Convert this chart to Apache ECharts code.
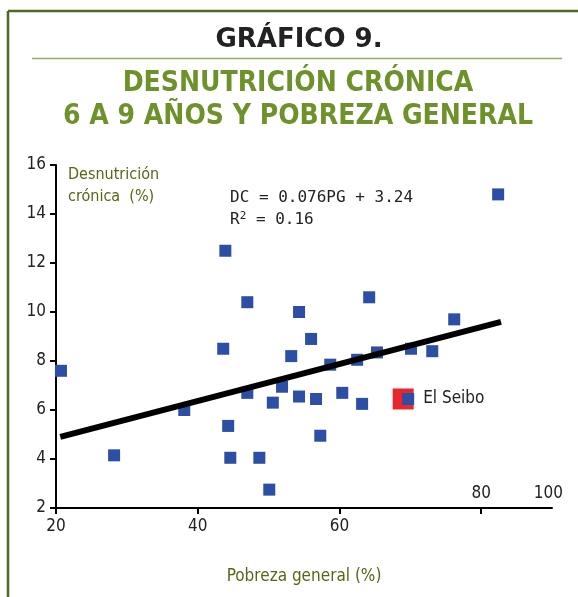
<!DOCTYPE html>
<html>
<head>
<meta charset="utf-8">
<script src="https://cdn.jsdelivr.net/npm/echarts@6/dist/echarts.min.js"></script>
<style>
  html, body { margin: 0; padding: 0; background: #fff; }
  #main { width: 578px; height: 597px; }
</style>
</head>
<body>
<div id="main"></div>
<script>
// Pobreza general (%) vs desnutrición crónica (%) por provincia
var pobreza = [20.7, 28.2, 38.1, 43.9, 47.0, 43.6, 44.3, 44.6, 47.0, 48.7,
               50.1, 50.6, 51.9, 53.2, 54.3, 54.3, 56.0, 56.7, 57.3, 58.7,
               60.4, 62.5, 63.2, 64.2, 65.3, 70.1, 73.1, 76.2, 82.4];
var desnutricion = [7.6, 4.15, 6.0, 12.5, 10.4, 8.5, 5.35, 4.05, 6.7, 4.05,
                    2.75, 6.3, 6.95, 8.2, 10.0, 6.55, 8.9, 6.45, 4.95, 7.85,
                    6.7, 8.05, 6.25, 10.6, 8.35, 8.5, 8.4, 9.7, 14.8];
var elSeibo = [69.7, 6.45];
// recta de regresión tal como está dibujada
var rectaX = [20.6, 82.8];
var rectaY = [4.9, 9.6];
// marcas de los ejes
var yTicks = [2, 4, 6, 8, 10, 12, 14, 16];
var xTicksAbajo = [20, 40, 60];
var xTicksArriba = [80, 89.5];
var xTickTextos = { 20: '20', 40: '40', 60: '60', 80: '80', 89.5: '100' };

var fuente = "'Liberation Sans Narrow', 'DejaVu Sans Condensed', sans-serif";
var verde = '#6e9229';
var oliva = '#5a6514';

var puntos = pobreza.map(function (x, i) { return [x, desnutricion[i]]; });

var chart = echarts.init(document.getElementById('main'));
chart.setOption({
  animation: false,
  backgroundColor: '#fff',
  graphic: [
    { type: 'line', shape: { x1: 8, y1: 11, x2: 578, y2: 11 }, style: { stroke: '#4b6a1f', lineWidth: 2.5 } },
    { type: 'line', shape: { x1: 8, y1: 11, x2: 8, y2: 597 }, style: { stroke: '#4b6a1f', lineWidth: 2.5 } },
    { type: 'line', shape: { x1: 32, y1: 58.5, x2: 562, y2: 58.5 }, style: { stroke: '#8fb064', lineWidth: 1.5 } },
    {
      type: 'text', x: 299, y: 27,
      style: { text: 'GRÁFICO 9.', fill: '#222', font: 'bold 26px DejaVu Sans', align: 'center' }
    },
    {
      type: 'text', x: 298, y: 67,
      style: {
        text: 'DESNUTRICIÓN CRÓNICA\n6 A 9 AÑOS Y POBREZA GENERAL',
        fill: verde, font: 'bold 28px ' + fuente, align: 'center', lineHeight: 33
      }
    },
    {
      type: 'text', left: 68, top: 164,
      style: { text: 'Desnutrición\ncrónica  (%)', fill: oliva, font: '16px ' + fuente, lineHeight: 22 }
    },
    {
      type: 'text', left: 230, top: 190,
      style: { text: 'DC = 0.076PG + 3.24', fill: '#222', font: '16px DejaVu Sans Mono' }
    },
    {
      type: 'text', left: 230, top: 211,
      style: {
        text: '{a|R}{s|2}{a| = 0.16}',
        rich: {
          a: { fill: '#222', font: '16px DejaVu Sans Mono' },
          s: { fill: '#222', font: '11px DejaVu Sans Mono', verticalAlign: 'top', padding: [0, 0, 6, 0] }
        }
      }
    }
  ],
  grid: { left: 56, top: 165, right: 26, bottom: 89, containLabel: false },
  xAxis: [
    {
      type: 'value', min: 20, max: 90,
      name: 'Pobreza general (%)', nameLocation: 'middle', nameGap: 60,
      nameTextStyle: { color: oliva, fontSize: 17, fontFamily: fuente },
      axisLine: { onZero: false, lineStyle: { color: '#000', width: 2 } },
      axisTick: { customValues: [20, 40, 60, 80], length: 6, lineStyle: { color: '#000', width: 2 } },
      axisLabel: {
        customValues: xTicksAbajo, margin: 10, color: '#222', fontSize: 17, fontFamily: fuente,
        formatter: function (v) { return xTickTextos[v]; }
      },
      splitLine: { show: false }
    },
    {
      type: 'value', min: 20, max: 90, position: 'bottom',
      axisLine: { show: false, onZero: false },
      axisTick: { show: false },
      axisLabel: {
        inside: true, customValues: xTicksArriba, margin: 6, color: '#222', fontSize: 17, fontFamily: fuente,
        formatter: function (v) { return xTickTextos[v]; }
      },
      splitLine: { show: false }
    }
  ],
  yAxis: {
    type: 'value', min: 2, max: 16, interval: 2,
    axisLine: { show: true, onZero: false, lineStyle: { color: '#000', width: 2 } },
    axisTick: { show: true, length: 6, lineStyle: { color: '#000', width: 2 } },
    axisLabel: {
      customValues: yTicks, margin: 10, color: '#222', fontSize: 17, fontFamily: fuente
    },
    splitLine: { show: false }
  },
  series: [
    {
      type: 'scatter', name: 'Provincias', data: puntos,
      symbol: 'rect', symbolSize: 12,
      itemStyle: { color: '#2c4ea5', opacity: 1 }, z: 2
    },
    {
      type: 'scatter', name: 'El Seibo marco', data: [elSeibo],
      symbol: 'rect', symbolSize: 21, symbolOffset: [-5, 0],
      itemStyle: { color: '#e8262b', opacity: 1 }, z: 2
    },
    {
      type: 'scatter', name: 'El Seibo', data: [elSeibo],
      symbol: 'rect', symbolSize: 12,
      itemStyle: { color: '#2c4ea5', opacity: 1 }, z: 3,
      label: {
        show: true, position: 'right', distance: 9, formatter: 'El Seibo',
        color: '#222', fontSize: 17, fontFamily: fuente
      }
    },
    {
      type: 'line', name: 'Recta', data: [[rectaX[0], rectaY[0]], [rectaX[1], rectaY[1]]],
      symbol: 'none', lineStyle: { color: '#000', width: 6 }, z: 4
    }
  ]
});
</script>
</body>
</html>
